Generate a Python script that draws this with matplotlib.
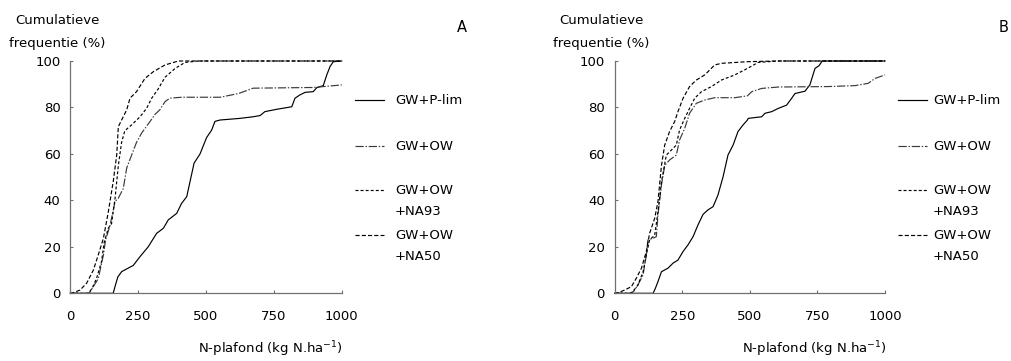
import matplotlib
matplotlib.use("Agg")
import matplotlib.pyplot as plt
from matplotlib.lines import Line2D

plt.rcParams['font.family'] = ['DejaVu Sans']

# ---------------- data ----------------
x_ticks = [0, 250, 500, 750, 1000]
y_ticks = [0, 20, 40, 60, 80, 100]
series_labels = ["GW+P-lim", "GW+OW", "GW+OW\n+NA93", "GW+OW\n+NA50"]
panel_letters = ["A", "B"]

# Panel A
a_plim_x = [0, 158, 165, 175, 189, 200, 232, 257, 287, 318, 343, 361, 392, 410, 429, 441, 456, 478, 502, 521, 533,
            552, 625, 674, 699, 717, 760, 816, 828, 846, 865, 895, 908, 932, 945, 957, 969, 1000]
a_plim_y = [0, 0, 3, 7, 9.3, 10, 12, 15.8, 20, 25.8, 28, 31.6, 34.4, 38.7, 41.6, 48, 56, 60, 67, 70.3, 74,
            74.6, 75.3, 76, 76.5, 78.2, 79.2, 80.3, 84, 85.4, 86.5, 86.8, 88.5, 89.4, 94, 97.6, 99.7, 100]
a_ow_x = [0, 66, 72, 103, 122, 130, 146, 165, 177, 195, 208, 226, 244, 263, 294, 312, 330, 349, 367, 410, 552,
          620, 674, 895, 1000]
a_ow_y = [0, 0, 0.5, 6.3, 16.5, 23, 29, 39.5, 41, 45, 54, 59.5, 65, 69, 74, 77, 79, 82.5, 84, 84.4, 84.4,
          86, 88.3, 88.6, 89.7]
a_na93_x = [0, 66, 80, 97, 115, 125, 140, 152, 165, 177, 189, 201, 226, 257, 281, 300, 324, 349, 386, 423, 472, 1000]
a_na93_y = [0, 0, 2, 6.5, 13.6, 22, 28, 30, 41, 55, 65, 70, 72.5, 76, 79.6, 84, 88, 93, 96.8, 99.4, 100, 100]
a_na50_x = [0, 5, 36, 60, 85, 103, 122, 140, 158, 171, 177, 189, 208, 220, 244, 275, 306, 349, 398, 1000]
a_na50_y = [0, 0, 1.4, 4.3, 10, 16.5, 23.7, 35, 48, 59.5, 71.7, 74.6, 79, 84, 86.8, 92.5, 95.4, 98.3, 100, 100]

# Panel B
b_plim_x = [0, 142, 150, 160, 173, 197, 216, 234, 253, 271, 290, 308, 327, 345, 364, 382, 401, 419, 438, 456, 475,
            491, 494, 544, 556, 581, 605, 636, 655, 667, 704, 722, 741, 756, 768, 1000]
b_plim_y = [0, 0, 2, 5, 9.3, 10.8, 13, 14.3, 18, 20.8, 24.4, 29.4, 34, 35.9, 37.3, 42.3, 50.2, 59.5, 63.8, 69.6, 72.5,
            74.6, 75.3, 76, 77.5, 78.2, 79.6, 81, 84, 86, 87, 89.7, 96.8, 98, 100, 100]
b_ow_x = [0, 55, 70, 86, 105, 117, 123, 142, 154, 160, 173, 185, 203, 228, 240, 259, 277, 302, 333, 370, 444, 491,
          507, 544, 605, 790, 889, 938, 963, 1000]
b_ow_y = [0, 0, 0.8, 3.6, 8, 16.5, 23, 23.7, 24.4, 33.7, 46.6, 55, 57.4, 59.5, 66, 71, 77.5, 81.8, 83.2, 84.2, 84.2, 85,
          86.8, 88.2, 88.8, 89, 89.4, 90.4, 92.5, 94]
b_na93_x = [0, 62, 86, 105, 117, 129, 148, 160, 173, 191, 210, 228, 240, 259, 277, 296, 321, 358, 395, 444, 491, 531,
            605, 1000]
b_na93_y = [0, 0, 3.6, 9.3, 16.5, 23, 25, 35, 48, 59.5, 61.7, 63.8, 70.3, 75.3, 79.6, 84, 86.8, 89, 91.8, 94, 96.8, 99.4,
            100, 100]
b_na50_x = [0, 6, 37, 62, 80, 99, 117, 129, 148, 160, 173, 185, 203, 222, 234, 253, 277, 302, 333, 370, 395, 491, 600,
            1000]
b_na50_y = [0, 0, 1.4, 2.9, 6.5, 10.8, 18, 25.8, 32.3, 39.5, 55, 63.8, 69.6, 74, 78.2, 84, 89, 91.8, 94, 98.3, 99, 99.7,
            100, 100]

panels = [
    [(a_plim_x, a_plim_y), (a_ow_x, a_ow_y), (a_na93_x, a_na93_y), (a_na50_x, a_na50_y)],
    [(b_plim_x, b_plim_y), (b_ow_x, b_ow_y), (b_na93_x, b_na93_y), (b_na50_x, b_na50_y)],
]

# ---------------- styles ----------------
W, H = 1012, 361
FS = 9.5
styles = [
    dict(linestyle='-', color='black'),
    dict(linestyle=(0, (7, 1.5, 1.2, 1.5)), color='#3a3a3a'),
    dict(linestyle=(0, (2.5, 1.8)), color='black'),
    dict(linestyle=(0, (3.5, 1.8)), color='black'),
]
axis_col = '#707070'

fig = plt.figure(figsize=(W / 100, H / 100), dpi=100)

ax_left_px = [70.3, 614.7]
ax_right_px = [341.7, 885.0]
y0_px, y100_px = 293.3, 61.0

legend_line_x = [(355, 384), (898, 927)]
legend_text_x = [395, 933]
legend_row_y = [100.5, 146.5, 190.5, 235.5]
letter_x = [461.7, 1004]

for p in range(2):
    l = ax_left_px[p] / W
    w = (ax_right_px[p] - ax_left_px[p]) / W
    b = (H - y0_px) / H
    h = (y0_px - y100_px) / H
    ax = fig.add_axes([l, b, w, h])
    for (xs, ys), st in zip(panels[p], styles):
        ax.plot(xs, ys, lw=0.85, clip_on=False, **st)
    ax.set_xlim(0, 1000)
    ax.set_ylim(0, 100)
    ax.set_xticks(x_ticks)
    ax.set_yticks(y_ticks)
    ax.set_xticklabels([str(t) for t in x_ticks])
    ax.set_yticklabels([str(t) for t in y_ticks])
    for s in ['top', 'right']:
        ax.spines[s].set_visible(False)
    for s in ['left', 'bottom']:
        ax.spines[s].set_color(axis_col)
        ax.spines[s].set_linewidth(0.9)
    ax.tick_params(axis='both', direction='in', length=2.5, width=0.8, color=axis_col,
                   labelsize=FS, labelcolor='black')
    ax.tick_params(axis='y', pad=7)
    ax.tick_params(axis='x', pad=12)
    ax.patch.set_visible(False)

    off = ax_left_px[p] - ax_left_px[0]
    # y label
    fig.text((57 + off) / W, 1 - 20 / H, "Cumulatieve", ha='center', va='center', fontsize=FS)
    fig.text((57 + off) / W, 1 - 43 / H, "frequentie (%)", ha='center', va='center', fontsize=FS)
    # x label
    fig.text((270 + off) / W, 1 - 349 / H, r"N-plafond (kg N.ha$^{\mathregular{-1}}$)",
             ha='center', va='center', fontsize=FS)
    # panel letter
    fig.text(letter_x[p] / W, 1 - 27 / H, panel_letters[p], ha='center', va='center', fontsize=FS + 1)

    # legend
    x1, x2 = legend_line_x[p]
    for ry, lab, st in zip(legend_row_y, series_labels, styles):
        fig.add_artist(Line2D([x1 / W, x2 / W], [1 - (ry - 1) / H, 1 - (ry - 1) / H],
                              lw=0.85, transform=fig.transFigure, **st))
        lines = lab.split("\n")
        for k, t in enumerate(lines):
            fig.text(legend_text_x[p] / W, 1 - (ry + 21 * k) / H, t, ha='left', va='center', fontsize=FS)

fig.savefig("out.png", dpi=100)
